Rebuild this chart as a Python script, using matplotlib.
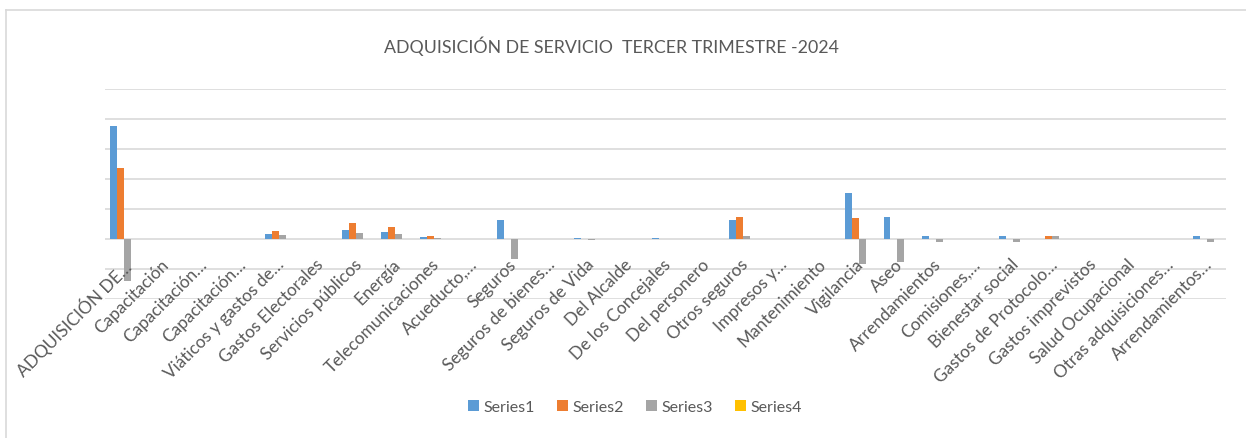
import matplotlib.pyplot as plt
from matplotlib.lines import Line2D
import numpy as np

plt.rcParams['font.family'] = ['Lato', 'DejaVu Sans']

# Categories (as shown, truncated like the original)
categories = [
    'ADQUISICIÓN DE…', 'Capacitación', 'Capacitación…', 'Capacitación…',
    'Viáticos y gastos de…', 'Gastos Electorales', 'Servicios públicos',
    'Energía', 'Telecomunicaciones', 'Acueducto,…', 'Seguros',
    'Seguros de bienes…', 'Seguros de Vida', 'Del Alcalde',
    'De los Concejales', 'Del personero', 'Otros seguros', 'Impresos y…',
    'Mantenimiento', 'Vigilancia', 'Aseo', 'Arrendamientos', 'Comisiones,…',
    'Bienestar social', 'Gastos de Protocolo…', 'Gastos imprevistos',
    'Salud Ocupacional', 'Otras adquisiciones…', 'Arrendamientos…',
]

# Series values (arbitrary units)
series1 = [3.76, 0.01, 0.0, 0.01, 0.16, 0.0, 0.30, 0.22, 0.07, 0.01, 0.64,
           0.0, 0.02, 0.0, 0.02, 0.0, 0.62, 0.0, 0.0, 1.52, 0.73, 0.10, 0.0,
           0.10, 0.0, 0.0, 0.0, 0.01, 0.10]
series2 = [2.37, 0.0, 0.0, 0.0, 0.27, 0.0, 0.52, 0.40, 0.11, 0.0, 0.0,
           0.0, 0.0, 0.0, 0.0, 0.0, 0.73, 0.0, 0.0, 0.69, 0.0, 0.0, 0.0,
           0.0, 0.10, 0.0, 0.0, 0.0, 0.0]
series3 = [-1.41, 0.0, 0.0, 0.0, 0.12, 0.0, 0.20, 0.17, 0.03, 0.0, -0.67,
           0.0, -0.02, 0.0, -0.01, 0.0, 0.10, 0.0, 0.0, -0.83, -0.76, -0.11,
           0.0, -0.10, 0.10, 0.0, 0.0, 0.0, -0.10]
series4 = [0.0] * len(categories)

series_names = ['Series1', 'Series2', 'Series3', 'Series4']
colors = ['#5B9BD5', '#ED7D31', '#A5A5A5', '#FFC000']
text_color = '#595959'
grid_color = '#D9D9D9'

fig = plt.figure(figsize=(12.46, 4.39), dpi=100)
ax = fig.add_axes([105 / 1246, 1 - 300 / 439, 1121 / 1246, 210 / 439])

x = np.arange(len(categories))
width = 0.18
all_series = [series1, series2, series3, series4]
for i, (vals, name, col) in enumerate(zip(all_series, series_names, colors)):
    ax.bar(x + (i - 1.5) * width, vals, width, color=col, label=name, zorder=2)

ax.set_xlim(-0.5, len(categories) - 0.5)
ax.set_ylim(-2, 5)
ax.set_yticks(np.arange(-2, 6, 1))
ax.yaxis.grid(True, color=grid_color, linewidth=1.2, zorder=0)
ax.tick_params(axis='y', length=0, labelleft=False)
ax.set_xticks([])
for s in ['top', 'right', 'left', 'bottom']:
    ax.spines[s].set_visible(False)

# category labels hang from the zero line, like Excel (drawn over the bars)
for xi, label in zip(x, categories):
    ax.annotate(label, xy=(xi, 0), xytext=(-2, -12), textcoords='offset points',
                rotation=45, rotation_mode='anchor', ha='right', va='top',
                fontsize=12.4, color=text_color, zorder=5, annotation_clip=False)

fig.text(611 / 1246, 1 - 46 / 439, 'ADQUISICIÓN DE SERVICIO  TERCER TRIMESTRE -2024',
         ha='center', va='center', fontsize=12.8, color=text_color)

fig.legend(loc='center', bbox_to_anchor=(635 / 1246, 1 - 408 / 439), ncol=4,
           frameon=False, fontsize=11.5, labelcolor=text_color,
           handlelength=0.7, handleheight=0.7, handletextpad=0.25,
           columnspacing=1.4)

# chart border (left and top edges visible)
fig.add_artist(Line2D([6 / 1246, 6 / 1246], [0, 1 - 11 / 439],
                      color=grid_color, linewidth=1.2, transform=fig.transFigure))
fig.add_artist(Line2D([6 / 1246, 1], [1 - 11 / 439, 1 - 11 / 439],
                      color=grid_color, linewidth=1.2, transform=fig.transFigure))

fig.savefig('out.png', dpi=100)
